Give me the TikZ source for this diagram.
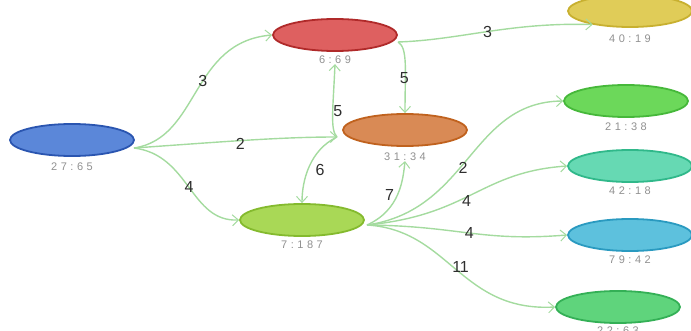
\documentclass[tikz,border=0pt]{standalone}
\usepackage{fontspec}
\setmainfont{Liberation Sans}
\newfontfamily\countfont[LetterSpace=32]{Liberation Sans}
\usetikzlibrary{shapes.geometric,arrows.meta}

\definecolor{lnk}{HTML}{A4DB9F}
\definecolor{lbltxt}{HTML}{909090}
\definecolor{wtxt}{HTML}{2E2E2E}
\definecolor{blueD}{HTML}{2A55B0}\definecolor{blueF}{HTML}{5B87D9}
\definecolor{redD}{HTML}{B02A2A}\definecolor{redF}{HTML}{DE6060}
\definecolor{oraD}{HTML}{C0621E}\definecolor{oraF}{HTML}{D98A55}
\definecolor{limD}{HTML}{84BA2E}\definecolor{limF}{HTML}{A9D856}
\definecolor{yelD}{HTML}{C8B030}\definecolor{yelF}{HTML}{E0CC58}
\definecolor{grnD}{HTML}{46B83A}\definecolor{grnF}{HTML}{6CD85A}
\definecolor{teaD}{HTML}{30B88A}\definecolor{teaF}{HTML}{66D9B3}
\definecolor{cyaD}{HTML}{2A9AC0}\definecolor{cyaF}{HTML}{5DC1DD}
\definecolor{gr2D}{HTML}{34B056}\definecolor{gr2F}{HTML}{5FD47C}

\tikzset{
  blob/.style 2 args={ellipse, draw=#1, fill=#2, line width=1.8pt,
    minimum width=124pt, minimum height=32pt, inner sep=0pt},
  cnt/.style={text=lbltxt, font=\countfont\fontsize{11}{11}\selectfont, inner sep=0pt},
  link/.style={draw=lnk, line width=1.4pt, -{Straight Barb[length=6pt,width=11pt,line width=1pt]}},
  wlab/.style={text=wtxt, font=\fontsize{16}{16}\selectfont, inner sep=1pt},
}

\begin{document}
\begin{tikzpicture}[x=1pt,y=-1pt]
\useasboundingbox (0,0) rectangle (691,331);
\clip (0,0) rectangle (691,331);

% junction points where several links meet
\coordinate (jb) at (134,148);
\coordinate (jo) at (337,137);
\coordinate (jl) at (367,225);
\coordinate (jr) at (398,42);

% nodes
\node[blob={blueD}{blueF}] (n27) at (72,140) {};
\node[blob={redD}{redF}]   (n6)  at (335,35) {};
\node[blob={oraD}{oraF}]   (n31) at (405,130) {};
\node[blob={limD}{limF}]   (n7)  at (302,220) {};
\node[blob={yelD}{yelF}]   (n40) at (630,11) {};
\node[blob={grnD}{grnF}]   (n21) at (626,101) {};
\node[blob={teaD}{teaF}]   (n42) at (630,166) {};
\node[blob={cyaD}{cyaF}]   (n79) at (630,235) {};
\node[blob={gr2D}{gr2F}]   (n22) at (618,307) {};

% counts under the nodes
\node[cnt] (c27) at (72,167) {27:65};
\node[cnt] (c6)  at (335,60) {6:69};
\node[cnt] (c31) at (405,157) {31:34};
\node[cnt] (c7)  at (302,245) {7:187};
\node[cnt] (c40) at (630,39) {40:19};
\node[cnt] (c21) at (626,127) {21:38};
\node[cnt] (c42) at (630,191) {42:18};
\node[cnt] (c79) at (630,260) {79:42};
\node[cnt] (c22) at (618,331) {22:63};

% links
\draw[link] (jb) .. controls (200,138) and (190,42) .. (n6.west)
  node[wlab, pos=0.56] {3};
\draw[link] (jb) .. controls (220,142) and (280,137) .. (jo)
  node[wlab, pos=0.47, below=-4pt] {2};
\draw[link] (jb) .. controls (190,155) and (190,222) .. (n7.west)
  node[wlab, pos=0.5] {4};
\draw[link] (jo) .. controls (330,130) and (333,110) .. (c6.south)
  node[wlab, pos=0.55, right=-1pt] {5};
\draw[link] (jo) .. controls (310,150) and (302,180) .. (n7.north)
  node[wlab, pos=0.55, right=6pt] {6};
\draw[link] (jr) .. controls (408,48) and (405,70) .. (n31.north)
  node[wlab, pos=0.68, left=-5pt] {5};
\draw[link] (jr) .. controls (460,40) and (510,22) .. (n40.200)
  node[wlab, pos=0.5] {3};
\draw[link] (jl) .. controls (400,210) and (403,180) .. (c31.south)
  node[wlab, pos=0.5, left=2pt] {7};
\draw[link] (jl) .. controls (470,210) and (470,102) .. (n21.west)
  node[wlab, pos=0.44, right=-3pt] {2};
\draw[link] (jl) .. controls (470,215) and (480,172) .. (n42.west)
  node[wlab, pos=0.46, below=-3pt] {4};
\draw[link] (jl) .. controls (460,226) and (480,242) .. (n79.west)
  node[wlab, pos=0.5] {4};
\draw[link] (jl) .. controls (450,230) and (460,312) .. (n22.west)
  node[wlab, pos=0.48, right=-3pt] {11};
\end{tikzpicture}
\end{document}
